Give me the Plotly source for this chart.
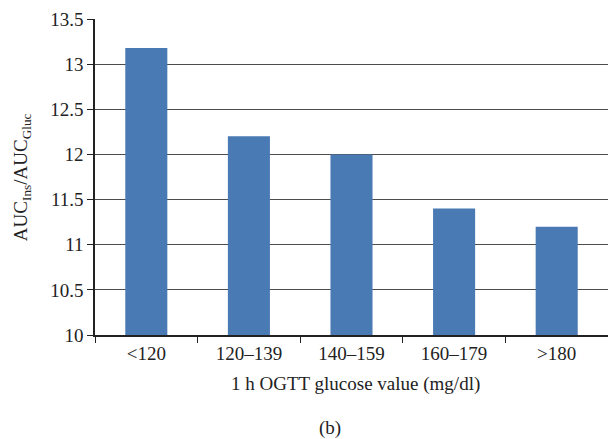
import plotly.graph_objects as go

categories = ["<120", "120–139", "140–159", "160–179", ">180"]
values = [13.18, 12.2, 12.0, 11.4, 11.2]
y_ticks = [10, 10.5, 11, 11.5, 12, 12.5, 13, 13.5]
y_tick_labels = ["10", "10.5", "11", "11.5", "12", "12.5", "13", "13.5"]

FONT = "Liberation Serif"
FS = 19

fig = go.Figure(go.Bar(x=categories, y=values, marker_color="#4a7ab4", marker_line_width=0))

# page body has an 8px default margin: keep the figure inside the 616x439 window
fig.update_layout(
    width=600, height=431,
    margin=dict(l=87, r=0, t=11, b=104),
    paper_bgcolor="white", plot_bgcolor="white",
    bargap=0.59,
    showlegend=False,
    font=dict(family=FONT, size=FS, color="#222"),
    xaxis=dict(
        showline=True, linecolor="#222", linewidth=1.5,
        ticks="outside", tickson="boundaries", ticklen=6, tickcolor="#222",
        showgrid=False, tickfont=dict(size=FS),
    ),
    yaxis=dict(
        range=[10, 13.5], tickvals=y_ticks, ticktext=y_tick_labels,
        showline=True, linecolor="#222", linewidth=1.5,
        ticks="outside", ticklen=6, tickcolor="#222",
        showgrid=True, gridcolor="#4d4d4d", gridwidth=1.3,
        zeroline=False, tickfont=dict(size=FS),
    ),
    annotations=[
        dict(text="1 h OGTT glucose value (mg/dl)", xref="paper", yref="paper",
             x=0.507, y=-0.155, showarrow=False, font=dict(size=FS), yanchor="middle"),
        dict(text="(b)", xref="paper", yref="paper",
             x=0.458, y=-0.295, showarrow=False, font=dict(size=FS), yanchor="middle"),
        dict(text="AUC<sub>Ins</sub>/AUC<sub>Gluc</sub>", xref="paper", yref="paper",
             x=-0.142, y=0.5, showarrow=False, textangle=-90, font=dict(size=FS),
             xanchor="center", yanchor="middle"),
    ],
)

fig.write_html("out.html")
